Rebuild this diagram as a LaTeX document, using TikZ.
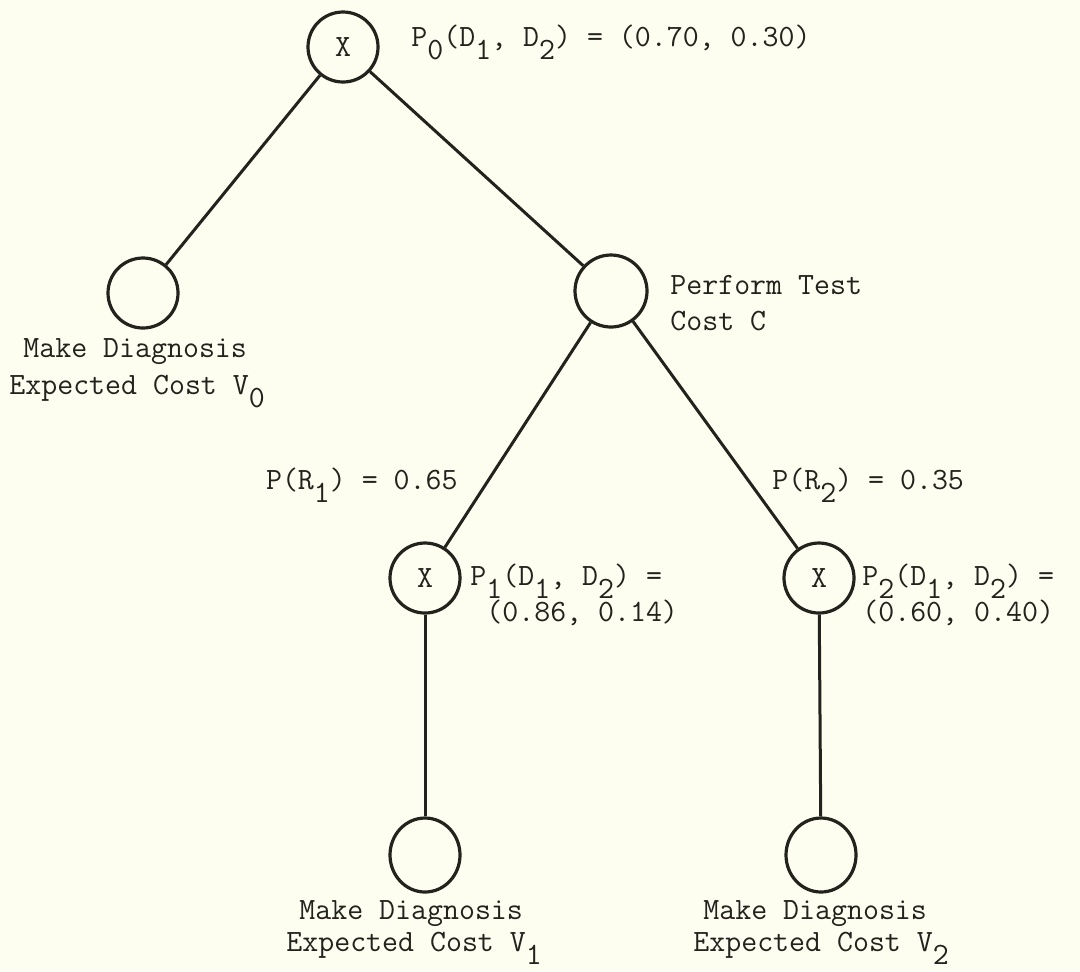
\documentclass[tikz,border=0pt]{standalone}
\usetikzlibrary{shapes.geometric}
\definecolor{paper}{RGB}{253,253,240}
\definecolor{ink}{RGB}{35,35,30}
\newcommand\sbs[1]{\raisebox{-0.42em}[0pt][0pt]{#1}}
\begin{document}
\begin{tikzpicture}[x=0.5pt,y=-0.5pt,
  txt/.style={text=ink,inner sep=0pt,font=\ttfamily\fontsize{15.5}{17}\selectfont},
  dnode/.style={circle,draw=ink,line width=1.6pt,minimum size=35pt,inner sep=0pt,text=ink,font=\ttfamily\fontsize{15.5}{17}\selectfont},
  enode/.style={ellipse,draw=ink,line width=1.6pt,minimum width=35pt,minimum height=37pt,inner sep=0pt},
  link/.style={draw=ink,line width=1.5pt}]
\fill[paper] (0,0) rectangle (1080,971);
\useasboundingbox (0,0) rectangle (1080,971);
% nodes
\node[dnode] (root) at (343,47) {X};
\node[dnode] (left) at (143,293) {};
\node[dnode,minimum size=36pt] (test) at (611,291) {};
\node[dnode] (x1) at (425,578) {X};
\node[dnode] (x2) at (819,578) {X};
\node[enode] (b1) at (425,855) {};
\node[enode] (b2) at (821,855) {};
% connectors
\draw[link] (root) -- (left);
\draw[link] (root) -- (test);
\draw[link] (test) -- (x1);
\draw[link] (test) -- (x2);
\draw[link] (x1) -- (b1);
\draw[link] (x2) -- (b2);
% labels
\node[txt,anchor=base west] (p0) at (411,46) {P\sbs0(D\sbs1, D\sbs2) = (0.70, 0.30)};
\node[txt,anchor=base west] (pt1) at (670,294) {Perform Test};
\node[txt,anchor=base west] (pt2) at (670,330) {Cost C};
\node[txt,anchor=base west] (l1) at (23,357) {Make Diagnosis};
\node[txt,anchor=base west] (l2) at (9,394) {Expected Cost V\sbs0};
\node[txt,anchor=base east] (r1) at (458,489) {P(R\sbs1) = 0.65};
\node[txt,anchor=base west] (r2) at (772,489) {P(R\sbs2) = 0.35};
\node[txt,anchor=base west] (p1a) at (470,585) {P\sbs1(D\sbs1, D\sbs2) =};
\node[txt,anchor=base west] (p1b) at (486,621) {(0.86, 0.14)};
\node[txt,anchor=base west] (p2a) at (862,585) {P\sbs2(D\sbs1, D\sbs2) =};
\node[txt,anchor=base west] (p2b) at (862,621) {(0.60, 0.40)};
\node[txt,anchor=base west] (m1) at (299,919) {Make Diagnosis};
\node[txt,anchor=base west] (e1) at (286,951) {Expected Cost V\sbs1};
\node[txt,anchor=base west] (m2) at (703,919) {Make Diagnosis};
\node[txt,anchor=base west] (e2) at (693,951) {Expected Cost V\sbs2};
\end{tikzpicture}
\end{document}
